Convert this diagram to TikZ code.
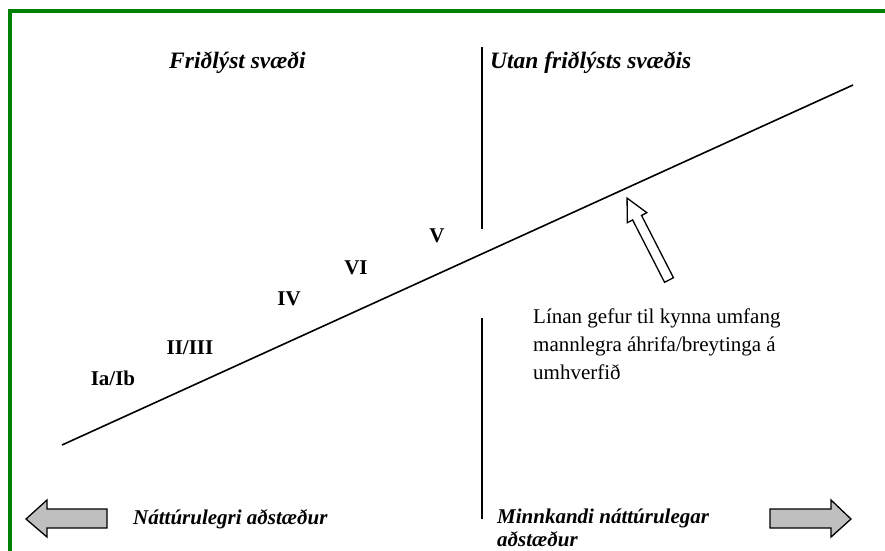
\documentclass[tikz,border=0pt]{standalone}
\usepackage{fontspec}
\setmainfont{Liberation Serif}
\begin{document}
\begin{tikzpicture}[x=1pt,y=-1pt,
  head/.style={font=\fontsize{23.5}{28}\selectfont\bfseries\itshape, inner sep=0pt},
  lbl/.style={font=\fontsize{21}{25}\selectfont\bfseries\itshape, inner sep=0pt},
  num/.style={font=\fontsize{21}{25}\selectfont\bfseries, inner sep=0pt},
  body/.style={font=\fontsize{21}{27.7}\selectfont, inner sep=0pt, align=left},
  blockarrow/.style={draw=black, fill=gray!50, line width=1.3pt, line join=miter},
  hollowarrow/.style={draw=black, fill=white, line width=1.3pt, line join=miter},
  thinline/.style={line width=1.6pt}]
\useasboundingbox (0,0) rectangle (885,550);
\fill[white] (0,0) rectangle (885,550);
% green frame
\draw[line width=4pt, color={rgb,255:red,0;green,128;blue,0}] (10,560) -- (10,11) -- (895,11);
% headings
\node[head, anchor=west] (fr) at (169,63) {Friðlýst svæði};
\node[head, anchor=west] (ut) at (490,63) {Utan friðlýsts svæðis};
% vertical divider
\coordinate (v1) at (482,47);
\coordinate (v2) at (482,229);
\coordinate (v3) at (482,318);
\coordinate (v4) at (482,519);
\draw[thinline] (v1) -- (v2);
\draw[thinline] (v3) -- (v4);
% diagonal
\coordinate (d1) at (62,445);
\coordinate (d2) at (853,85);
\draw[thinline] (d1) -- (d2);
% category labels
\node[num] (ia) at (113,378) {Ia/Ib};
\node[num] (ii) at (190,348) {II/III};
\node[num] (iv) at (289,299) {IV};
\node[num] (vi) at (356,268) {VI};
\node[num] (v) at (437,236) {V};
% hollow arrow pointing to line
\begin{scope}[shift={(669,280)}, rotate=117.12]
\draw[hollowarrow] (0,-5) -- (70,-5) -- (70,-11) -- (92,0) -- (70,11) -- (70,5) -- (0,5) -- cycle;
\end{scope}
% explanation
\node[body, anchor=north west] (ex) at (533,309) {Línan gefur til kynna umfang\\mannlegra áhrifa/breytinga á\\umhverfið};
% bottom arrows
\draw[blockarrow] (107,509) -- (47,509) -- (47,500) -- (26,519) -- (47,537) -- (47,528) -- (107,528) -- cycle;
\draw[blockarrow] (770,509) -- (831,509) -- (831,500) -- (851,519) -- (831,537) -- (831,528) -- (770,528) -- cycle;
\node[lbl, anchor=west] (na) at (133,519) {Náttúrulegri aðstæður};
\node[lbl, anchor=north west, align=left, font=\fontsize{21}{22.5}\selectfont\bfseries\itshape] (mi) at (497,509) {Minnkandi náttúrulegar\\aðstæður};
\end{tikzpicture}
\end{document}
